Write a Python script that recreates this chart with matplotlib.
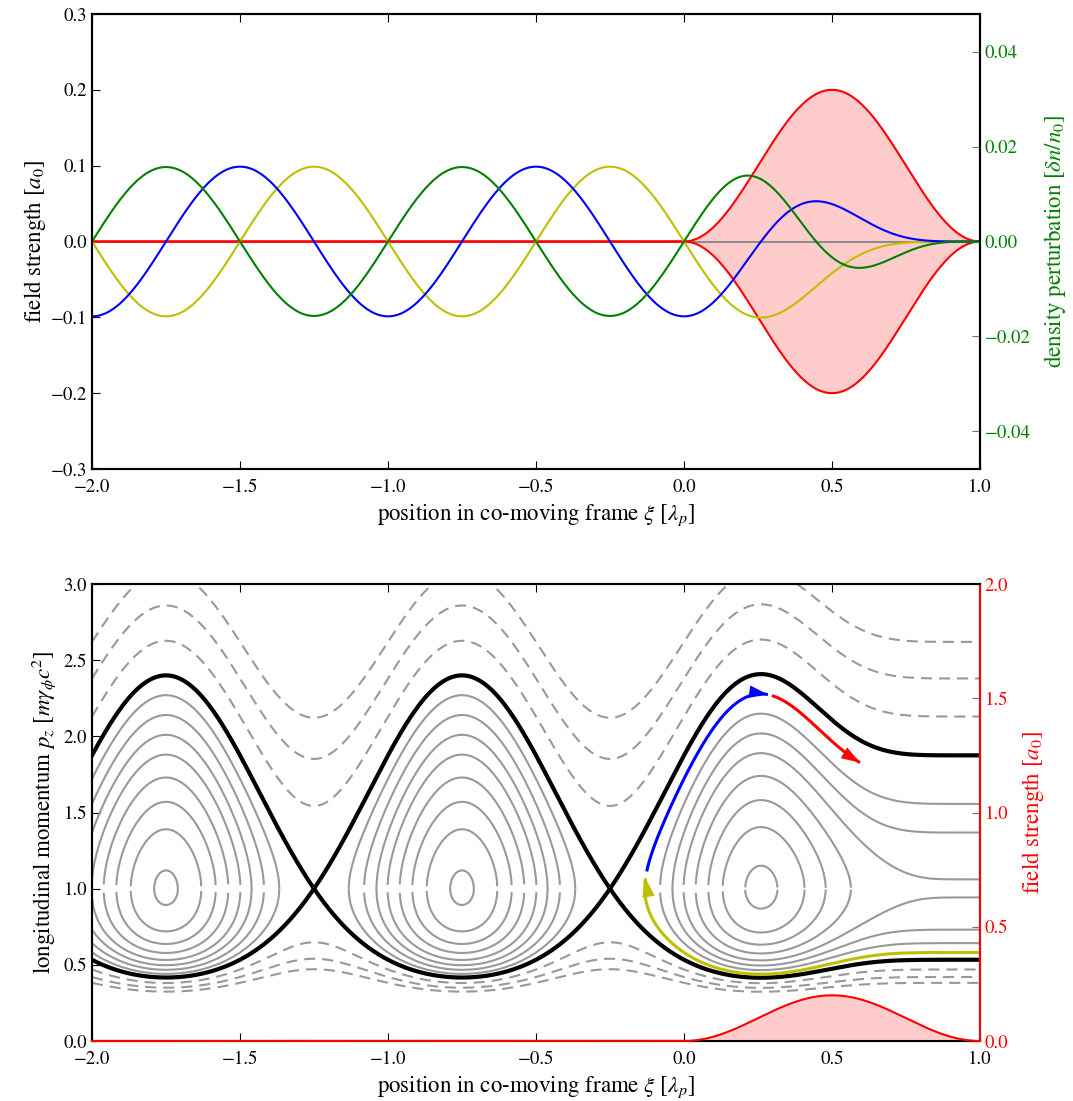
import numpy as np
import matplotlib
matplotlib.use('Agg')
import matplotlib.pyplot as plt

plt.rcParams.update({
    'font.family': 'STIXGeneral',
    'mathtext.fontset': 'stix',
    'font.size': 13.5,
    'axes.linewidth': 1.5,
    'xtick.direction': 'in',
    'ytick.direction': 'in',
    'xtick.top': True,
    'xtick.major.size': 6,
    'ytick.major.size': 6,
    'xtick.major.pad': 7,
    'lines.scale_dashes': False,
})

# laser pulse / wake parameters
a0 = 0.2                 # peak normalised vector potential
pulse_start, pulse_end = 0.0, 1.0
gamma_phi = 13.0         # wake phase velocity Lorentz factor

# peak momenta (at bucket centre) of the trapped gray orbits;
# the first one is the orbit followed by the injected electron
orbit_peaks = [2.27, 2.14, 2.01, 1.88, 1.73, 1.57, 1.39, 1.12]
# momenta ahead of the pulse for the untrapped (dashed) orbits
untrapped_front = [2.13, 2.38, 2.62]

# injected electron path along the first orbit
yellow_tip_p = 1.07      # lower branch, ends turning upwards at this momentum
blue_start_p = 1.11
blue_end_xi = 0.284
red_start_xi, red_end_xi = 0.297, 0.595

xticks = [-2.0, -1.5, -1.0, -0.5, 0.0, 0.5, 1.0]
xticklabels = ['\u22122.0', '\u22121.5', '\u22121.0', '\u22120.5', '0.0', '0.5', '1.0']
top_yticks = [-0.3, -0.2, -0.1, 0.0, 0.1, 0.2, 0.3]
top_yticklabels = ['\u22120.3', '\u22120.2', '\u22120.1', '0.0', '0.1', '0.2', '0.3']
dens_yticks = [-0.04, -0.02, 0.0, 0.02, 0.04]
dens_yticklabels = ['\u22120.04', '\u22120.02', '0.00', '0.02', '0.04']
mom_yticks = [0.0, 0.5, 1.0, 1.5, 2.0, 2.5, 3.0]
field_yticks = [0.0, 0.5, 1.0, 1.5, 2.0]

LABEL_FS = 16.5

# ---- linear wake driven by a sin^2 pulse ----
kp = 2 * np.pi
xi = np.linspace(-2, 1, 6001)
inside = (xi >= pulse_start) & (xi <= pulse_end)
a = np.where(inside, a0 * np.sin(np.pi * (xi - pulse_start) / (pulse_end - pulse_start)) ** 2, 0.0)
src = a ** 2 / 4


def tail(f):
    seg = 0.5 * (f[1:] + f[:-1]) * np.diff(xi)
    return np.concatenate([np.cumsum(seg[::-1])[::-1], [0.0]])


Is = tail(np.sin(kp * xi) * src)
Ic = tail(np.cos(kp * xi) * src)
phi = kp * (np.cos(kp * xi) * Is - np.sin(kp * xi) * Ic)
Ez = -np.gradient(phi, xi)
dens = phi - src

S = np.pi * a0 ** 2 / 8
psi = phi / S
A = gamma_phi * S


def branches(K, clip=False):
    c = K + A * psi
    d2 = c ** 2 - 1
    if clip:
        d = np.sqrt(np.clip(d2, 0, None))
    else:
        d = np.where(d2 >= 0, np.sqrt(np.abs(d2)), np.nan)
    return c + d, c - d


def level_from_peak(p):
    return (p + 1 / p) / 2 - A


def level_from_front(p):
    return (p + 1 / p) / 2


fig = plt.figure(figsize=(10.73, 11.01), dpi=100)
L, W = 92 / 1073, 888 / 1073
ax1 = fig.add_axes([L, 1 - 469 / 1101, W, 455 / 1101])
ax2 = fig.add_axes([L, 1 - 1041 / 1101, W, 457 / 1101])

# ---- top: fields and density ----
ax1.fill_between(xi, -a, a, color='#ffcccc', lw=0, zorder=1)
ax1.axhline(0, color='0.55', lw=1.5, zorder=2)
ax1.plot(xi, a, color='r', lw=1.5, zorder=3)
ax1.plot(xi, -a, color='r', lw=1.5, zorder=3)
ax1.plot(xi, -kp * phi, color='#bfbf00', lw=1.5, zorder=4)
ax1.plot(xi, Ez, color='b', lw=1.5, zorder=4)
ax1.set_xlim(-2, 1)
ax1.set_ylim(-0.3, 0.3)
ax1.set_xticks(xticks)
ax1.set_xticklabels(xticklabels)
ax1.set_yticks(top_yticks)
ax1.set_yticklabels(top_yticklabels)
ax1.set_xlabel(r'position in co-moving frame $\xi$ [$\lambda_p$]', fontsize=LABEL_FS, labelpad=5)
ax1.set_ylabel(r'field strength [$a_0$]', fontsize=LABEL_FS, labelpad=2)

ax1r = ax1.twinx()
ax1r.plot(xi, dens, color='g', lw=1.5)
ax1r.set_ylim(-0.048, 0.048)
ax1r.set_yticks(dens_yticks)
ax1r.set_yticklabels(dens_yticklabels)
ax1r.tick_params(axis='y', colors='0.45', labelcolor='g')
ax1r.set_ylabel(r'density perturbation [$\delta n/n_0$]', color='g', fontsize=LABEL_FS, labelpad=8)

# ---- bottom: phase space ----
K_sep = 1 + A
K_traj = level_from_peak(orbit_peaks[0])
behind = xi < -0.25
dash = (0, (8, 5))
for i, pk in enumerate(orbit_peaks):
    up, lo = branches(level_from_peak(pk))
    if i == 0:
        up = np.where(behind, up, np.nan)
        lo = np.where(behind, lo, np.nan)
    ax2.plot(xi, up, color='0.6', lw=1.5)
    ax2.plot(xi, lo, color='0.6', lw=1.5)

for pf in untrapped_front:
    up, lo = branches(level_from_front(pf))
    ax2.plot(xi, up, color='0.6', lw=1.5, ls=dash)
    ax2.plot(xi, lo, color='0.6', lw=1.5, ls=dash)

up, lo = branches(K_sep, clip=True)
ax2.plot(xi, up, color='k', lw=3, zorder=4)
ax2.plot(xi, lo, color='k', lw=3, zorder=4)

# electron path
up, lo = branches(K_traj)
seg3 = ~behind
valid = seg3 & np.isfinite(lo)
xl, yl = xi[valid][::-1], lo[valid][::-1]
mu = seg3 & np.isfinite(up) & (up <= yellow_tip_p)
xu, yu = xi[mu], up[mu]
order = np.argsort(yu)
xy_x = np.concatenate([xl, xu[order]])
xy_y = np.concatenate([yl, yu[order]])
mb = seg3 & np.isfinite(up) & (up >= blue_start_p) & (xi <= blue_end_xi)
mr = (xi >= red_start_xi) & (xi <= red_end_xi)


def arrow_line(x, y, color):
    ax2.plot(x, y, color=color, lw=2.2, zorder=5, solid_capstyle='butt')
    k = max(3, len(x) // 40)
    ax2.annotate('', xy=(x[-1], y[-1]), xytext=(x[-k], y[-k]),
                 arrowprops=dict(arrowstyle='-|>,head_length=0.9,head_width=0.3',
                                 color=color, lw=0, shrinkA=0, shrinkB=0,
                                 mutation_scale=15),
                 zorder=6)


arrow_line(xy_x, xy_y, '#bfbf00')
arrow_line(xi[mb], up[mb], 'b')
arrow_line(xi[mr], up[mr], 'r')

ax2.set_xlim(-2, 1)
ax2.set_ylim(0, 3)
ax2.set_xticks(xticks)
ax2.set_xticklabels(xticklabels)
ax2.set_yticks(mom_yticks)
ax2.set_xlabel(r'position in co-moving frame $\xi$ [$\lambda_p$]', fontsize=LABEL_FS, labelpad=5)
ax2.set_ylabel(r'longitudinal momentum $p_z$ [$m\gamma_\phi c^2$]', fontsize=LABEL_FS)

ax2r = ax2.twinx()
ax2r.fill_between(xi, 0, a, color='#ffcccc', lw=0)
ax2r.plot(xi, a, color='r', lw=1.5, clip_on=False, zorder=5)
ax2r.set_ylim(0, 2)
ax2r.set_yticks(field_yticks)
ax2r.tick_params(axis='y', colors='0.45', labelcolor='r')
ax2r.spines['right'].set_color('r')
ax2r.set_ylabel(r'field strength [$a_0$]', color='r', fontsize=LABEL_FS, labelpad=8)

fig.savefig('out.png', dpi=100)
